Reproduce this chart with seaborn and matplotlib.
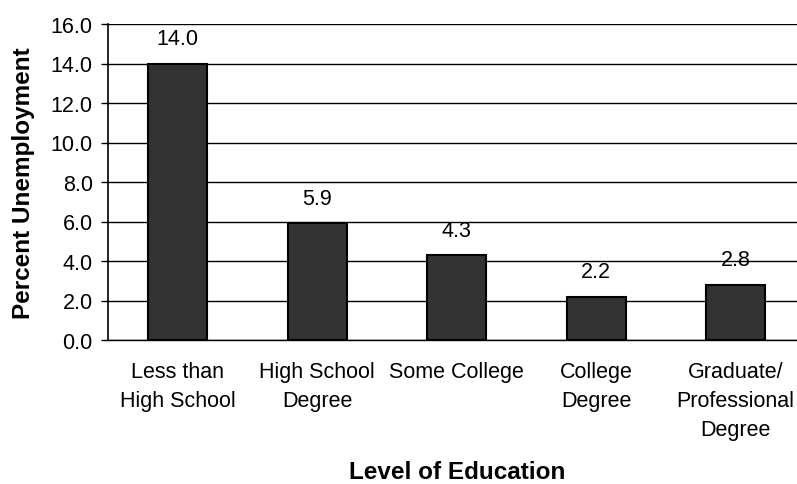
import matplotlib
matplotlib.use("Agg")
import matplotlib.pyplot as plt
import seaborn as sns
import pandas as pd
import numpy as np

sns.set_theme(style="white")
plt.rcParams['font.family'] = ['Liberation Sans', 'DejaVu Sans']
plt.rcParams['text.color'] = 'black'
plt.rcParams['axes.labelcolor'] = 'black'
plt.rcParams['xtick.color'] = 'black'
plt.rcParams['ytick.color'] = 'black'

categories = ["Less than\nHigh School", "High School\nDegree", "Some College",
              "College\nDegree", "Graduate/\nProfessional\nDegree"]
rates = [14.0, 5.9, 4.3, 2.2, 2.8]
y_ticks = [0, 2, 4, 6, 8, 10, 12, 14, 16]

df = pd.DataFrame({"education": categories, "rate": rates})

fig = plt.figure(figsize=(7.97, 4.85), dpi=100)
W, H = 797, 485
left, right, top, bottom = 108, 805.5, 25, 341
ax = fig.add_axes([left / W, 1 - bottom / H, (right - left) / W, (bottom - top) / H])

sns.barplot(data=df, x="education", y="rate", ax=ax, color="#333333",
            saturation=1, width=0.42, edgecolor="black", linewidth=1.5, zorder=3)

ax.set_ylim(0, 16)
ax.set_xlim(-0.5, len(categories) - 0.5)
ax.set_yticks(y_ticks)
ax.set_yticklabels([f"{v:.1f}" for v in y_ticks], fontsize=15.5, color="black")
ax.yaxis.grid(True, color="black", linewidth=1.0, zorder=0)
ax.set_axisbelow(True)

# category labels centred, tick marks drawn between categories
ax.set_xticks(range(len(categories)))
ax.set_xticklabels(categories, fontsize=15.5, linespacing=1.5, va="top", color="black")
ax.tick_params(axis="x", which="major", length=0, pad=15)
ax.set_xticks(np.arange(-0.5, len(categories), 1.0), minor=True)
ax.tick_params(axis="x", which="minor", length=5, width=1, color="#777777", direction="out")
ax.tick_params(axis="y", which="major", length=5, width=1, color="black",
               direction="out", left=True, pad=6)

for s in ["top", "right"]:
    ax.spines[s].set_visible(False)
ax.spines["left"].set_color("black")
ax.spines["left"].set_linewidth(1.2)
ax.spines["bottom"].set_color("black")
ax.spines["bottom"].set_linewidth(1.0)

for i, v in enumerate(rates):
    ax.annotate(f"{v:.1f}", (i, v), xytext=(0, 14), textcoords="offset points",
                ha="center", va="baseline", fontsize=15.5, color="black")

ax.set_xlabel("Level of Education", fontsize=17.5, fontweight="bold", color="black")
ax.xaxis.label.set_va("baseline")
ax.xaxis.set_label_coords(0.5, (bottom - 479) / (bottom - top))
ax.set_ylabel("Percent Unemployment", fontsize=17.5, fontweight="bold", labelpad=11,
              color="black")

fig.savefig("out.png", dpi=100)
